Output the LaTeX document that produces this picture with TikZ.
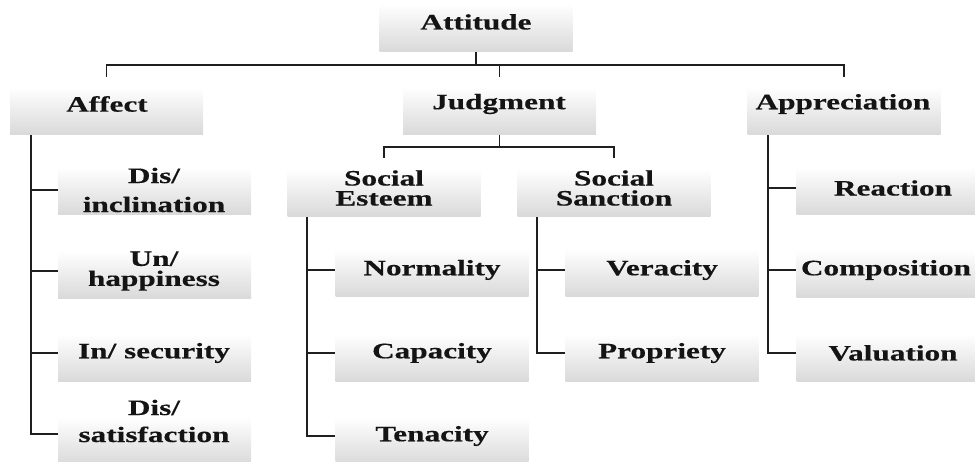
\documentclass[tikz,border=0pt]{standalone}
\usepackage{fontspec}
\newfontfamily\lblfont{Liberation Serif}[FakeStretch=1.42, BoldFeatures={FakeBold=0.35}]
\begin{document}
\begin{tikzpicture}[x=1pt,y=-1pt,
  box/.style={rectangle, minimum width=193pt, minimum height=48pt, inner sep=0pt,
    top color=white, bottom color=black!15, draw=none},
  lbl/.style={font=\lblfont\bfseries\fontsize{22}{20}\selectfont, text=black!92,
    align=center, inner sep=0pt},
  conn/.style={line width=1.7pt, draw=black!88}]
\useasboundingbox (0,0) rectangle (975,462);
\begin{scope}
\clip (0,0) rectangle (975,462);
% boxes
\node[box] (attB) at (476,28) {};
\node[box] (affB) at (106.5,111) {};
\node[box] (judB) at (499.5,111) {};
\node[box] (appB) at (844,111) {};
\node[box] (dinB) at (154.5,191) {};
\node[box] (uhaB) at (154.5,275) {};
\node[box] (isecB) at (154.5,358) {};
\node[box] (dsatB) at (154.5,441) {};
\node[box] (seB) at (384,193) {};
\node[box] (ssB) at (614,193) {};
\node[box] (norB) at (432,273) {};
\node[box] (capB) at (432,358) {};
\node[box] (tenB) at (432,441) {};
\node[box] (verB) at (662,273) {};
\node[box] (proB) at (662,358) {};
\node[box] (reaB) at (893,191) {};
\node[box] (comB) at (893,274) {};
\node[box] (valB) at (893,358) {};
% labels
\node[lbl] (att) at (476,22) {Attitude};
\node[lbl] (aff) at (107,104) {Affect};
\node[lbl] (jud) at (499,104) {Judgment};
\node[lbl] (app) at (843,104) {Appreciation};
\node[lbl] (din) at (154,190) {Dis/\\[9pt]inclination};
\node[lbl] (uha) at (154,271) {Un/\\happiness};
\node[lbl] (isec) at (154,353) {In/ security};
\node[lbl] (dsat) at (154,421) {Dis/\\[7pt]satisfaction};
\node[lbl] (se) at (384,188) {Social\\Esteem};
\node[lbl] (ss) at (614,188) {Social\\Sanction};
\node[lbl] (nor) at (432,270) {Normality};
\node[lbl] (cap) at (432,353) {Capacity};
\node[lbl] (ten) at (432,436) {Tenacity};
\node[lbl] (ver) at (662,270) {Veracity};
\node[lbl] (pro) at (662,353) {Propriety};
\node[lbl] (rea) at (893,188) {Reaction};
\node[lbl] (com) at (886,270) {Composition};
\node[lbl] (val) at (893,353) {Valuation};
\end{scope}
% top bus
\coordinate (bus) at (0,65);
\draw[conn] (attB.south) -- (attB.south |- bus);
\draw[conn] ([yshift=10pt]affB.north) -- (affB.north |- bus) -- (appB.north |- bus) -- ([yshift=10pt]appB.north);
\draw[conn] (judB.north |- bus) -- ([yshift=10pt]judB.north);
% affect
\coordinate (affX) at ([xshift=21pt]affB.south west);
\draw[conn] (affX) |- ([yshift=-13pt]dsat.center -| dsatB.west);
\draw[conn] (affX |- din.center) -- (din.center -| dinB.west);
\draw[conn] (affX |- uha.center) -- (uha.center -| uhaB.west);
\draw[conn] (affX |- isec.center) -- (isec.center -| isecB.west);
% judgment
\coordinate (jbus) at (0,147);
\draw[conn] (judB.south) -- (judB.south |- jbus);
\draw[conn] ([yshift=11pt]seB.north) -- (seB.north |- jbus) -- (ssB.north |- jbus) -- ([yshift=11pt]ssB.north);
\coordinate (seX) at ([xshift=20pt]seB.south west);
\draw[conn] (seX) |- (ten.center -| tenB.west);
\draw[conn] (seX |- nor.center) -- (nor.center -| norB.west);
\draw[conn] (seX |- cap.center) -- (cap.center -| capB.west);
\coordinate (ssX) at ([xshift=20pt]ssB.south west);
\draw[conn] (ssX) |- (pro.center -| proB.west);
\draw[conn] (ssX |- ver.center) -- (ver.center -| verB.west);
% appreciation
\coordinate (appX) at ([xshift=21pt]appB.south west);
\draw[conn] (appX) |- (val.center -| valB.west);
\draw[conn] (appX |- rea.center) -- (rea.center -| reaB.west);
\draw[conn] (appX |- com.center) -- (com.center -| comB.west);
\end{tikzpicture}
\end{document}
